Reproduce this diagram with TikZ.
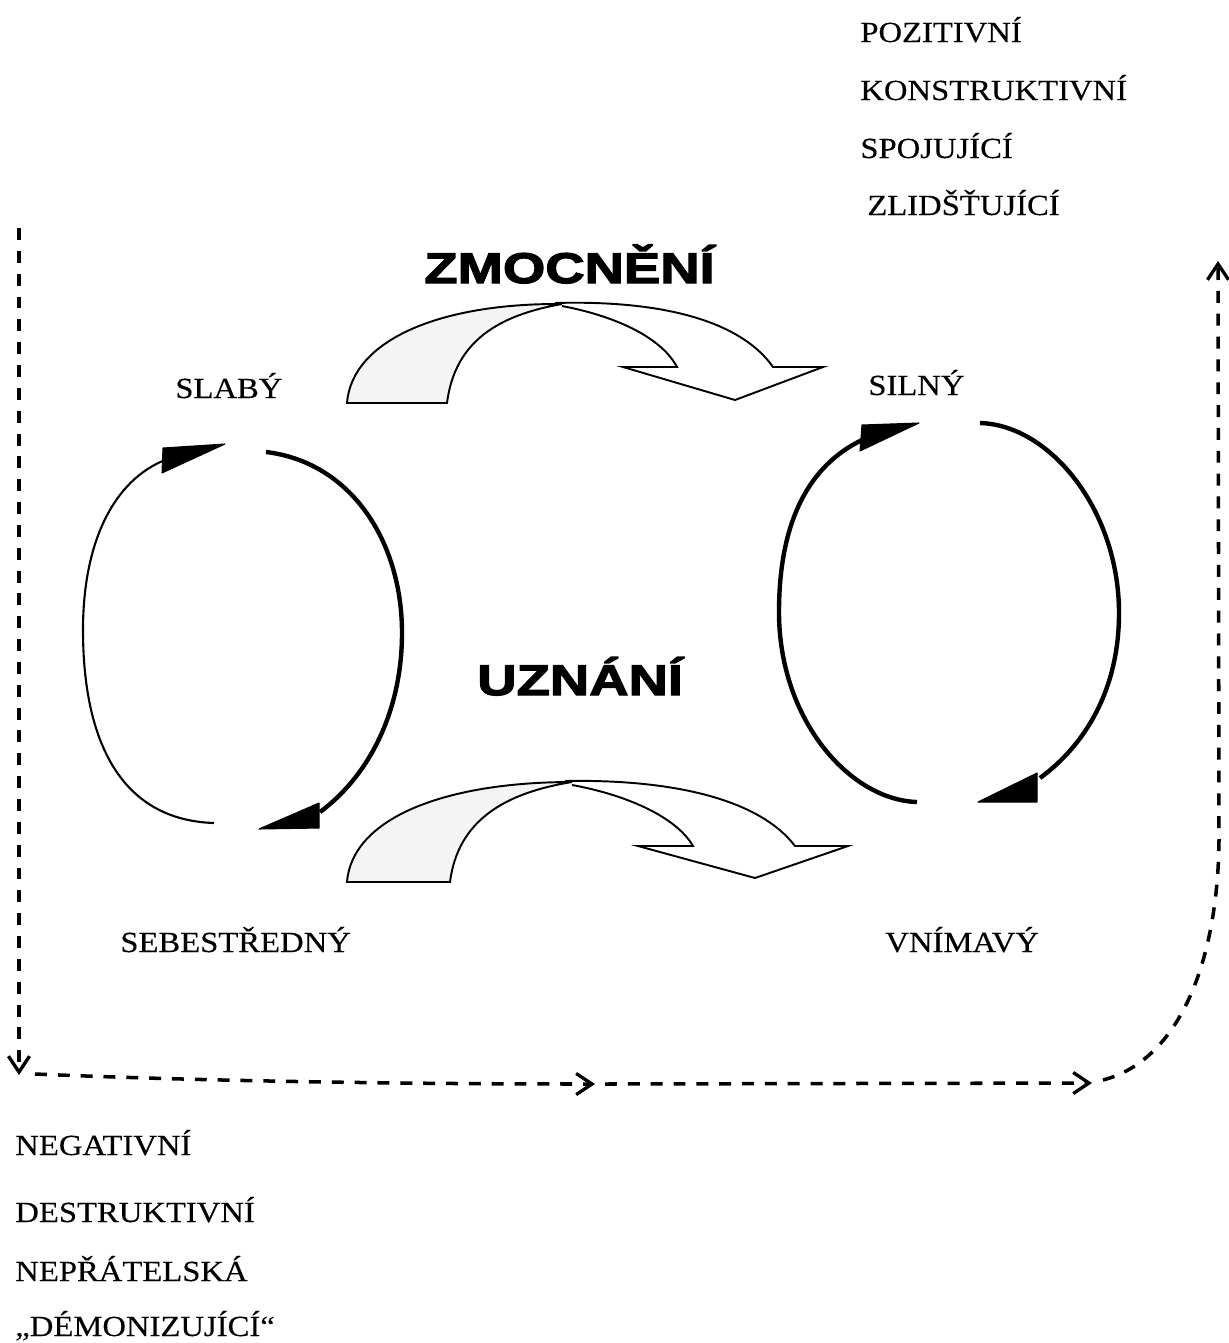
\documentclass[tikz,border=0pt]{standalone}
\usepackage{fontspec}
\setmainfont{Liberation Serif}[FakeStretch=1.12,FakeBold=0.3]
\newfontfamily\headfont{Liberation Sans Bold}[FakeStretch=1.27,FakeBold=3]
\usetikzlibrary{arrows.meta}
\begin{document}
\begin{tikzpicture}[x=0.02cm,y=-0.02cm,
  word/.style={inner sep=0pt, anchor=base west, font=\fontsize{16.6}{19}\selectfont},
  head/.style={inner sep=0pt, anchor=base west, font=\headfont\fontsize{24.4}{28}\selectfont},
  flow/.style={line width=2pt, dash pattern=on 6.8pt off 6.2pt,
    -{Straight Barb[length=9pt,width=12pt,line width=1.9pt]}},
  bendarrow/.style={line width=1.1pt, line join=miter},
  thinloop/.style={line width=1.2pt},
  thickloop/.style={line width=2.5pt},
  loophead/.style={fill=black, draw=black, line width=0.6pt, line join=round},
]
\useasboundingbox (0,0) rectangle (1229,1343);

% --- text labels ---
\node[word] (poz)  at (860,42)  {POZITIVNÍ};
\node[word] (kon)  at (860,100) {KONSTRUKTIVNÍ};
\node[word] (spo)  at (860,158) {SPOJUJÍCÍ};
\node[word] (zli)  at (867,215) {ZLIDŠŤUJÍCÍ};

\node[word] (neg)  at (15,1155) {NEGATIVNÍ};
\node[word] (des)  at (15,1222) {DESTRUKTIVNÍ};
\node[word] (nep)  at (15,1281) {NEPŘÁTELSKÁ};
\node[word] (dem)  at (15,1336) {„DÉMONIZUJÍCÍ“};

\node[word] (slaby) at (175,398) {SLABÝ};
\node[word] (silny) at (868,395) {SILNÝ};
\node[word] (sebe)  at (120,952) {SEBESTŘEDNÝ};
\node[word] (vnim)  at (885,952) {VNÍMAVÝ};

\node[head] (zmoc) at (424,283) {ZMOCNĚNÍ};
\node[head] (uzn)  at (477,695) {UZNÁNÍ};

% --- curved block arrow: ZMOCNĚNÍ ---
\fill[gray!9] (347,403) .. controls (352,340) and (440,303) .. (562,304)
  .. controls (500,315) and (455,340) .. (447,403) -- cycle;
\draw[bendarrow] (347,403) .. controls (352,340) and (440,303) .. (562,304)
  .. controls (500,315) and (455,340) .. (447,403) -- cycle;
\draw[bendarrow] (555,303) .. controls (660,300) and (740,320) .. (773,367)
  -- (823,367) -- (735,400) -- (623,367) -- (677,367)
  .. controls (660,335) and (610,315) .. (562,306);

% --- curved block arrow: UZNÁNÍ ---
\fill[gray!9] (347,882) .. controls (352,818) and (445,782) .. (572,782)
  .. controls (505,793) and (458,820) .. (450,882) -- cycle;
\draw[bendarrow] (347,882) .. controls (352,818) and (445,782) .. (572,782)
  .. controls (505,793) and (458,820) .. (450,882) -- cycle;
\draw[bendarrow] (565,781) .. controls (675,779) and (760,800) .. (795,846)
  -- (848,846) -- (755,878) -- (638,846) -- (693,846)
  .. controls (675,815) and (622,794) .. (572,785);

% --- left loop ---
\draw[thinloop] (214,823) .. controls (120,820) and (83,740) .. (83,630)
  .. controls (83,540) and (115,480) .. (165,460);
\fill[loophead] (163,448) -- (225,444) -- (162,473) -- cycle;
\draw[thickloop] (266,452) .. controls (350,462) and (402,540) .. (402,633)
  .. controls (402,710) and (370,775) .. (320,812);
\fill[loophead] (319,803) -- (319,828) -- (259,829) -- cycle;

% --- right loop ---
\draw[thickloop] (917,802) .. controls (850,800) and (779,720) .. (779,612)
  .. controls (779,520) and (810,465) .. (862,440);
\fill[loophead] (862,425) -- (919,423) -- (860,451) -- cycle;
\draw[thickloop] (980,423) .. controls (1050,425) and (1119,510) .. (1119,613)
  .. controls (1119,690) and (1085,745) .. (1040,778);
\fill[loophead] (1037,773) -- (1037,802) -- (978,802) -- cycle;

% --- dashed frame path ---
\coordinate (a0) at (19,228);
\coordinate (a1) at (19,1075);
\coordinate (b0) at (35,1074);
\coordinate (b1) at (595,1084);
\coordinate (c0) at (605,1084);
\coordinate (c1) at (1092,1083);
\coordinate (d0) at (1103,1080);
\coordinate (d1) at (1219,840);
\coordinate (d2) at (1218,261);
\draw[flow] (a0) -- (a1);
\draw[flow] (b0) .. controls (200,1081) and (400,1084) .. (b1);
\draw[flow] (c0) -- (c1);
\draw[flow] (d0) .. controls (1180,1060) and (1218,960) .. (d1) -- (d2);
\end{tikzpicture}
\end{document}
